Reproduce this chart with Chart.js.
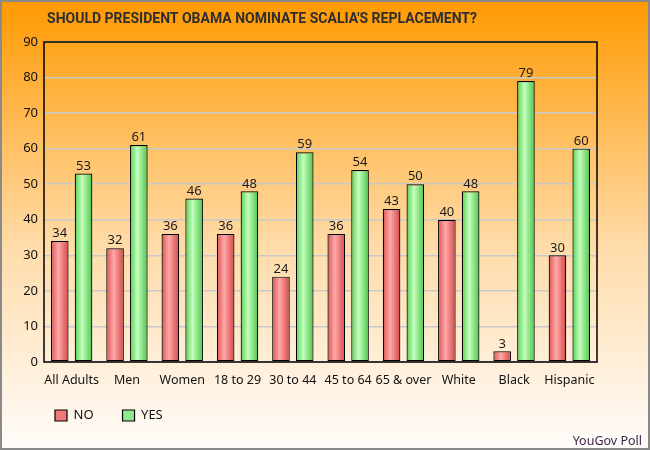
<!DOCTYPE html>
<html>
<head>
<meta charset="utf-8">
<script src="https://cdn.jsdelivr.net/npm/chart.js@4.4.1/dist/chart.umd.min.js"></script>
<style>
html,body{margin:0;padding:0;background:#fff;}
#wrap{width:650px;height:450px;position:relative;}
</style>
</head>
<body>
<div id="wrap"><canvas id="c" width="650" height="450"></canvas></div>
<script>
// ---- data ----
const categories = ['All Adults', 'Men', 'Women', '18 to 29', '30 to 44', '45 to 64', '65 & over', 'White', 'Black', 'Hispanic'];
const noValues  = [34, 32, 36, 36, 24, 36, 43, 40, 3, 30];
const yesValues = [53, 61, 46, 48, 59, 54, 50, 48, 79, 60];
const seriesNames = ['NO', 'YES'];
const yTickValues = [0, 10, 20, 30, 40, 50, 60, 70, 80, 90];
const titleText = "SHOULD PRESIDENT OBAMA NOMINATE SCALIA'S REPLACEMENT?";
const sourceText = 'YouGov Poll';

const FONT = "'Noto Sans', 'Open Sans', sans-serif";
const TITLE_FONT = "Roboto, 'Noto Sans', sans-serif";
Chart.defaults.font.family = FONT;

const gradStops = {
  NO:  ['#dc5252', '#ffa8a8', '#d44848'],
  YES: ['#55d055', '#c4ffbc', '#4cc44c']
};

const bgPlugin = {
  id: 'bg',
  beforeDraw(chart) {
    const {ctx, width, height} = chart;
    ctx.save();
    const g = ctx.createLinearGradient(0, 0, 0, height);
    g.addColorStop(0, '#ff9900');
    g.addColorStop(0.55, '#ffdcaa');
    g.addColorStop(1, '#fffdfb');
    ctx.fillStyle = g;
    ctx.fillRect(0, 0, width, height);
    ctx.strokeStyle = '#8a8a8a';
    ctx.lineWidth = 2;
    ctx.strokeRect(1, 1, width - 2, height - 2);
    ctx.restore();
  },
  afterLayout(chart) {
    // place legend and title like the reference
    const lg = chart.legend;
    lg.left += 26; lg.right += 26;
    lg.top -= 12; lg.bottom -= 12;
    const tb = chart.titleBlock;
    tb.left = 0; tb.right = 524;
  },
  beforeDatasetsDraw(chart) {
    const {ctx, chartArea: a} = chart;
    ctx.save();
    ctx.strokeStyle = '#000';
    ctx.lineWidth = 1.5;
    ctx.strokeRect(a.left, a.top, a.right - a.left, a.bottom - a.top);
    ctx.restore();
    chart.data.datasets.forEach((ds, di) => {
      const meta = chart.getDatasetMeta(di);
      const stops = gradStops[ds.label];
      meta.data.forEach(el => {
        const {x, width} = el.getProps(['x', 'width'], true);
        const g = ctx.createLinearGradient(x - width / 2, 0, x + width / 2, 0);
        g.addColorStop(0, stops[0]);
        g.addColorStop(0.42, stops[1]);
        g.addColorStop(1, stops[2]);
        el.options = Object.assign({}, el.options, {backgroundColor: g});
      });
    });
  },
  afterDatasetsDraw(chart) {
    const {ctx} = chart;
    ctx.save();
    ctx.font = '13px ' + FONT;
    ctx.fillStyle = '#1a1a1a';
    ctx.textAlign = 'center';
    ctx.textBaseline = 'bottom';
    chart.data.datasets.forEach((ds, di) => {
      const meta = chart.getDatasetMeta(di);
      meta.data.forEach((el, i) => {
        const {x, y} = el.getProps(['x', 'y'], true);
        ctx.fillText(String(ds.data[i]), x, y - 1);
      });
    });
    ctx.restore();
  },
  afterDraw(chart) {
    const {ctx} = chart;
    ctx.save();
    ctx.font = '12.5px ' + FONT;
    ctx.fillStyle = '#3a1f4c';
    ctx.textAlign = 'right';
    ctx.textBaseline = 'alphabetic';
    ctx.fillText(sourceText, 642, 445);
    ctx.restore();
  }
};

new Chart(document.getElementById('c'), {
  type: 'bar',
  data: {
    labels: categories,
    datasets: [
      {label: seriesNames[0], data: noValues, backgroundColor: '#f07a7a', borderColor: '#000', borderWidth: 1.2, borderSkipped: false,
       categoryPercentage: 0.86, barPercentage: 0.74},
      {label: seriesNames[1], data: yesValues, backgroundColor: '#8eea8e', borderColor: '#000', borderWidth: 1.2, borderSkipped: false,
       categoryPercentage: 0.86, barPercentage: 0.74}
    ]
  },
  options: {
    responsive: false,
    animation: false,
    devicePixelRatio: 1,
    layout: {padding: {left: 0, right: 53, top: 0, bottom: 6}},
    plugins: {
      title: {
        display: true,
        text: titleText,
        color: '#2e2e2e',
        font: {size: 14, weight: 'bold', family: TITLE_FONT},
        padding: {top: 11, bottom: 14.2}
      },
      legend: {
        position: 'bottom',
        align: 'start',
        labels: {
          boxWidth: 12, boxHeight: 11, padding: 29,
          color: '#111', font: {size: 13, family: FONT}
        }
      },
      tooltip: {enabled: false}
    },
    scales: {
      x: {
        grid: {display: false},
        border: {display: false},
        ticks: {color: '#111', font: {size: 12.5}, padding: 3, maxRotation: 0, autoSkip: false},
        afterFit(s) { s.height = 30; }
      },
      y: {
        min: 0, max: 90,
        afterBuildTicks(s) { s.ticks = yTickValues.map(v => ({value: v})); },
        grid: {color: '#c9c9c9', lineWidth: 1.5, drawTicks: false},
        border: {display: false},
        ticks: {color: '#111', font: {size: 13}, padding: 6},
        afterFit(s) { s.width = 44; }
      }
    }
  },
  plugins: [bgPlugin]
});
</script>
</body>
</html>
